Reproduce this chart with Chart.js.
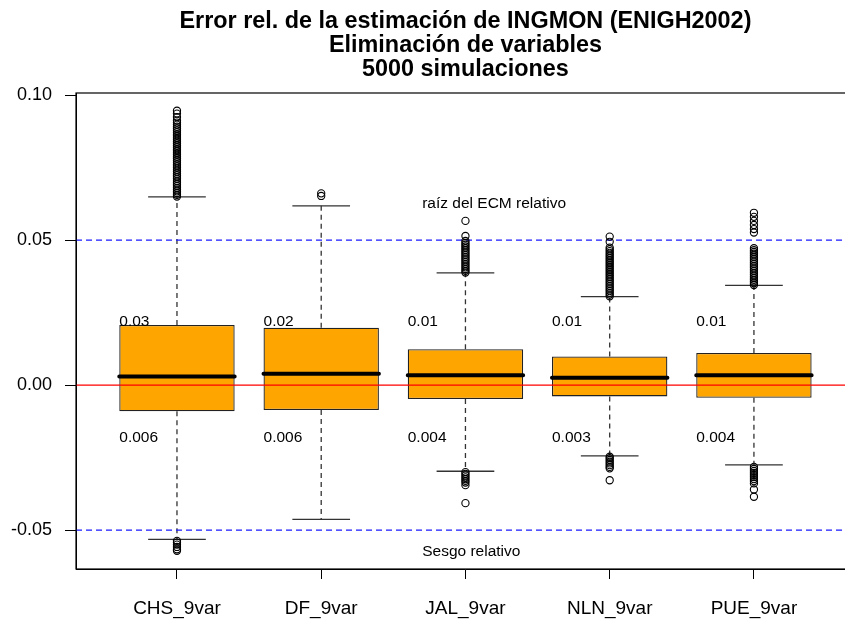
<!DOCTYPE html>
<html>
<head>
<meta charset="utf-8">
<script src="https://cdn.jsdelivr.net/npm/chart.js@4"></script>
<style>
  html, body { margin: 0; padding: 0; background: #fff; overflow: hidden; }
  #wrap { width: 860px; height: 619px; position: relative; }
</style>
</head>
<body>
<div id="wrap"><canvas id="chart"></canvas></div>
<script>
// box statistics
const categories = ['CHS_9var', 'DF_9var', 'JAL_9var', 'NLN_9var', 'PUE_9var'];
const q1 = [-0.0090, -0.0086, -0.0048, -0.0039, -0.0044];
const median = [0.0030, 0.0039, 0.0034, 0.0025, 0.0034];
const q3 = [0.0207, 0.0198, 0.0124, 0.0099, 0.0111];
const whiskerLow = [-0.0532, -0.0463, -0.0297, -0.0244, -0.0275];
const whiskerHigh = [0.0649, 0.0618, 0.0387, 0.0305, 0.0344];

// outliers, one list per box
const outliersCHS = [0.0650, 0.0656, 0.0662, 0.0668, 0.0674, 0.0680, 0.0686, 0.0692, 0.0698, 0.0704,
  0.0711, 0.0717, 0.0723, 0.0729, 0.0736, 0.0742, 0.0749, 0.0755, 0.0761, 0.0768, 0.0774, 0.0781,
  0.0787, 0.0794, 0.0800, 0.0807, 0.0813, 0.0820, 0.0826, 0.0833, 0.0839, 0.0846, 0.0852, 0.0859,
  0.0865, 0.0872, 0.0878, 0.0885, 0.0891, 0.0898, 0.0905, 0.0912, 0.0924, 0.0936, 0.0946,
  -0.0537, -0.0543, -0.0550, -0.0558, -0.0566, -0.0571];
const outliersDF = [0.0652, 0.0661];
const outliersJAL = [0.0388, 0.0394, 0.0400, 0.0406, 0.0412, 0.0418, 0.0424, 0.0430, 0.0436, 0.0442,
  0.0448, 0.0454, 0.0460, 0.0466, 0.0472, 0.0478, 0.0484, 0.0490, 0.0497, 0.0514, 0.0566,
  -0.0300, -0.0306, -0.0312, -0.0318, -0.0324, -0.0330, -0.0336, -0.0345, -0.0407];
const outliersNLN = [0.0306, 0.0312, 0.0318, 0.0324, 0.0330, 0.0336, 0.0342, 0.0348, 0.0354, 0.0360,
  0.0366, 0.0372, 0.0378, 0.0384, 0.0390, 0.0396, 0.0402, 0.0408, 0.0414, 0.0420, 0.0426, 0.0432,
  0.0438, 0.0444, 0.0450, 0.0456, 0.0462, 0.0468, 0.0474, 0.0494, 0.0512,
  -0.0247, -0.0252, -0.0258, -0.0264, -0.0270, -0.0276, -0.0282, -0.0287, -0.0328];
const outliersPUE = [0.0345, 0.0351, 0.0357, 0.0363, 0.0369, 0.0375, 0.0381, 0.0387, 0.0393, 0.0399,
  0.0405, 0.0411, 0.0417, 0.0423, 0.0429, 0.0435, 0.0441, 0.0447, 0.0453, 0.0459, 0.0465, 0.0472,
  0.0526, 0.0538, 0.0552, 0.0566, 0.0580, 0.0594,
  -0.0282, -0.0289, -0.0296, -0.0303, -0.0310, -0.0317, -0.0324, -0.0331, -0.0339, -0.0360, -0.0385];
const outliers = [outliersCHS, outliersDF, outliersJAL, outliersNLN, outliersPUE];

// labels written over / under each box
const topLabels = ['0.03', '0.02', '0.01', '0.01', '0.01'];
const bottomLabels = ['0.006', '0.006', '0.004', '0.003', '0.004'];

const refZero = 0;
const refLines = [0.05, -0.05];
const yTicks = [-0.05, 0, 0.05, 0.10];
const yTickLabels = ['-0.05', '0.00', '0.05', '0.10'];
const titleLines = ['Error rel. de la estimación de INGMON (ENIGH2002)', 'Eliminación de variables', '5000 simulaciones'];

const FONT = "'Liberation Sans', Arial, Helvetica, sans-serif";

// build the datasets
const boxData = categories.map((c, i) => ({ x: i + 1, y: [q1[i], q3[i]] }));

const medianData = [];
const whiskerData = [];
const capData = [];
categories.forEach((c, i) => {
    const x = i + 1;
    medianData.push({ x: x - 0.4, y: median[i] }, { x: x + 0.4, y: median[i] }, { x: x, y: null });
    whiskerData.push({ x: x, y: q3[i] }, { x: x, y: whiskerHigh[i] }, { x: x, y: null });
    whiskerData.push({ x: x, y: q1[i] }, { x: x, y: whiskerLow[i] }, { x: x, y: null });
    capData.push({ x: x - 0.2, y: whiskerHigh[i] }, { x: x + 0.2, y: whiskerHigh[i] }, { x: x, y: null });
    capData.push({ x: x - 0.2, y: whiskerLow[i] }, { x: x + 0.2, y: whiskerLow[i] }, { x: x, y: null });
});

const outlierData = [];
outliers.forEach((list, i) => list.forEach(v => outlierData.push({ x: i + 1, y: v })));

const xMin = 0.3, xMax = 5.7;
const blueData = [];
refLines.forEach(v => blueData.push({ x: xMin, y: v }, { x: xMax, y: v }, { x: xMin, y: null }));

// title, text annotations and plot frame
const extras = {
    id: 'extras',
    afterDatasetsDraw(chart) {
        const ctx = chart.ctx;
        const xs = chart.scales.x, ys = chart.scales.y;
        const a = chart.chartArea;
        ctx.save();
        ctx.fillStyle = '#000';
        ctx.font = '15.5px ' + FONT;
        ctx.textAlign = 'left';
        ctx.textBaseline = 'middle';
        categories.forEach((c, i) => {
            const px = xs.getPixelForValue(i + 1 - 0.4);
            ctx.fillText(topLabels[i], px, ys.getPixelForValue(0.022));
            ctx.fillText(bottomLabels[i], px, ys.getPixelForValue(-0.018));
        });
        ctx.fillText('raíz del ECM relativo', xs.getPixelForValue(2.7), ys.getPixelForValue(0.0625));
        ctx.fillText('Sesgo relativo', xs.getPixelForValue(2.7), ys.getPixelForValue(-0.0575));

        ctx.font = 'bold 23.4px ' + FONT;
        ctx.textAlign = 'center';
        const cx = (a.left + a.right) / 2;
        titleLines.forEach((t, k) => ctx.fillText(t, cx, 22 + k * 24));

        ctx.strokeStyle = '#000';
        ctx.lineWidth = 1.2;
        ctx.strokeRect(a.left, a.top, a.right - a.left, a.bottom - a.top);
        ctx.restore();
    }
};

new Chart(document.getElementById('chart'), {
    type: 'scatter',
    data: {
        datasets: [
            {
                type: 'scatter',
                data: outlierData,
                pointStyle: 'circle',
                pointRadius: 3.6,
                pointBorderWidth: 1.1,
                pointBorderColor: '#000',
                pointBackgroundColor: 'rgba(0,0,0,0)',
                order: 1
            },
            {
                type: 'line',
                data: [{ x: xMin, y: refZero }, { x: xMax, y: refZero }],
                borderColor: '#ff0000',
                borderWidth: 1.2,
                pointRadius: 0,
                order: 2
            },
            {
                type: 'line',
                data: blueData,
                borderColor: '#1a1aff',
                borderWidth: 1.2,
                borderDash: [6, 4],
                pointRadius: 0,
                spanGaps: false,
                order: 2
            },
            {
                type: 'line',
                data: medianData,
                borderColor: '#000',
                borderWidth: 4,
                borderCapStyle: 'round',
                pointRadius: 0,
                spanGaps: false,
                order: 3
            },
            {
                type: 'line',
                data: capData,
                borderColor: '#333',
                borderWidth: 1.3,
                pointRadius: 0,
                spanGaps: false,
                order: 4
            },
            {
                type: 'line',
                data: whiskerData,
                borderColor: '#333',
                borderWidth: 1.3,
                borderDash: [5, 4],
                pointRadius: 0,
                spanGaps: false,
                order: 5
            },
            {
                type: 'bar',
                data: boxData,
                backgroundColor: '#ffa500',
                borderColor: '#222',
                borderWidth: 1.3,
                borderSkipped: false,
                categoryPercentage: 1,
                barPercentage: 0.8,
                order: 6
            }
        ]
    },
    options: {
        responsive: true,
        maintainAspectRatio: false,
        animation: false,
        layout: { padding: { left: 0, right: 4, top: 93, bottom: 0 } },
        plugins: {
            legend: { display: false },
            tooltip: { enabled: false },
            title: { display: false }
        },
        scales: {
            x: {
                type: 'linear',
                min: xMin,
                max: xMax,
                offset: false,
                afterBuildTicks: s => { s.ticks = categories.map((c, i) => ({ value: i + 1 })); },
                afterFit: s => { s.height = 50; },
                ticks: {
                    callback: v => categories[v - 1],
                    color: '#000',
                    font: { family: FONT, size: 19 },
                    padding: 18,
                    maxRotation: 0,
                    autoSkip: false
                },
                grid: { offset: false, drawOnChartArea: false, drawTicks: true, tickLength: 10, color: '#000' },
                border: { display: true, color: '#000' }
            },
            y: {
                type: 'linear',
                min: -0.0634,
                max: 0.1007,
                afterBuildTicks: s => { s.ticks = yTicks.map(v => ({ value: v })); },
                afterFit: s => { s.width = 76; },
                ticks: {
                    callback: (v) => yTickLabels[yTicks.indexOf(v)],
                    color: '#000',
                    font: { family: FONT, size: 18 },
                    padding: 13,
                    autoSkip: false
                },
                grid: { drawOnChartArea: false, drawTicks: true, tickLength: 11, color: '#000' },
                border: { display: true, color: '#000' }
            }
        }
    },
    plugins: [extras]
});
</script>
</body>
</html>
